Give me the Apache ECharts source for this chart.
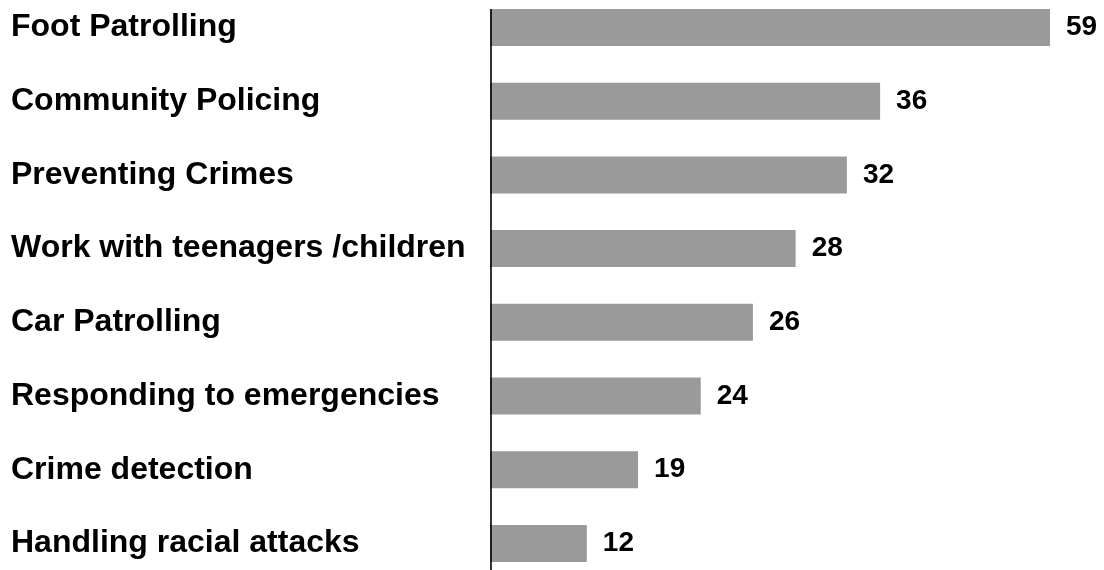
<!DOCTYPE html>
<html>
<head>
<meta charset="utf-8">
<script src="https://cdn.jsdelivr.net/npm/echarts@6/dist/echarts.min.js"></script>
<style>
html,body{margin:0;padding:0;background:#fff;}
#chart{width:1104px;height:570px;}
</style>
</head>
<body>
<div id="chart"></div>
<script>
// Categories, top to bottom
var categories = [
  "Foot Patrolling",
  "Community Policing",
  "Preventing Crimes",
  "Work with teenagers /children",
  "Car Patrolling",
  "Responding to emergencies",
  "Crime detection",
  "Handling racial attacks"
];
// Values printed next to the bars
var values = [59, 36, 32, 28, 26, 24, 19, 12];
// Bar lengths as drawn in the picture (same units, 59 = full length of the longest bar)
var barLengths = [59, 41.1, 37.6, 32.2, 27.7, 22.2, 15.6, 10.2];

var chart = echarts.init(document.getElementById('chart'));
var band = 73.7;
chart.setOption({
  animation: false,
  grid: {
    left: 490, width: 560, top: 27.5 - band / 2, height: band * categories.length,
    containLabel: false, outerBoundsMode: 'none'
  },
  xAxis: {
    type: 'value', min: 0, max: 59, show: false
  },
  yAxis: {
    type: 'category', data: categories, inverse: true,
    axisLine: { show: false }, axisTick: { show: false }, splitLine: { show: false },
    axisLabel: {
      align: 'left', margin: 479, padding: [3, 0, 0, 0],
      fontFamily: 'Liberation Sans, Arial, sans-serif', fontWeight: 'bold', fontSize: 32, color: '#000'
    }
  },
  series: [{
    type: 'bar',
    data: barLengths,
    barWidth: 37,
    itemStyle: { color: '#9a9a9a' },
    label: {
      show: true, position: 'right', distance: 16, padding: [3, 0, 0, 0],
      formatter: function (p) { return values[p.dataIndex]; },
      fontFamily: 'Liberation Sans, Arial, sans-serif', fontWeight: 'bold', fontSize: 28, color: '#000'
    }
  }],
  graphic: [{
    type: 'line', z: 100,
    shape: { x1: 491, y1: 9, x2: 491, y2: 570 },
    style: { stroke: '#000', lineWidth: 1.6 }
  }]
});
</script>
</body>
</html>
